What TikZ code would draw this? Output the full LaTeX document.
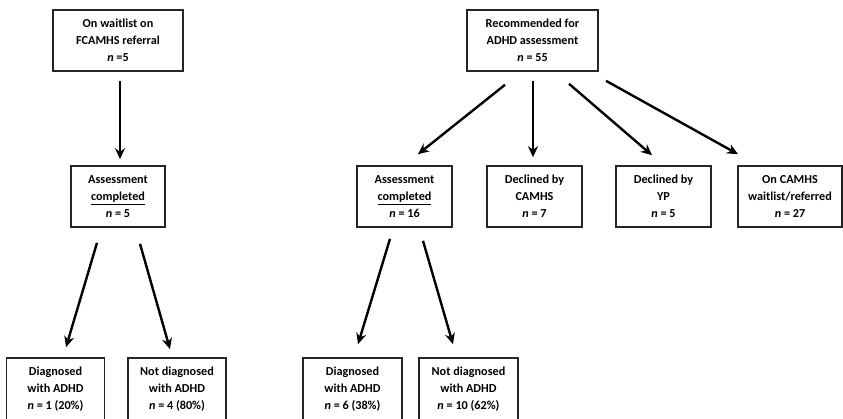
\documentclass[tikz,border=0pt]{standalone}
\usepackage{fontspec}
\setmainfont{Carlito}
\usetikzlibrary{arrows.meta}
\begin{document}
\begin{tikzpicture}[x=1pt,y=-1pt,
  box/.style={draw=black!85,line width=1.6pt,align=center,font=\bfseries\fontsize{12.2}{16.8}\selectfont,minimum height=61pt,inner sep=0pt},
  arr/.style={line width=2.4pt,-{Stealth[length=11pt,width=10pt]}}]
\useasboundingbox (0,0) rectangle (843,418);
\node[box,minimum width=130pt] (A) at (118,40.5) {On waitlist on\\FCAMHS referral\\\textit{n} =5};
\node[box,minimum width=94pt] (B) at (118,196.5) {Assessment\\\underline{completed}\\\textit{n} = 5};
\node[box,minimum width=98pt,minimum height=62pt] (C) at (55.5,389) {Diagnosed\\with ADHD\\\textit{n} = 1 (20\%)};
\node[box,minimum width=98pt,minimum height=62pt] (D) at (177,389) {Not diagnosed\\with ADHD\\\textit{n} = 4 (80\%)};
\node[box,minimum width=131pt] (E) at (532.5,40.5) {Recommended for\\ADHD assessment\\\textit{n} = 55};
\node[box,minimum width=95pt] (F) at (404.5,196.5) {Assessment\\\underline{completed}\\\textit{n} = 16};
\node[box,minimum width=95pt] (G) at (534.5,196.5) {Declined by\\CAMHS\\\textit{n} = 7};
\node[box,minimum width=95pt] (H) at (663.5,196.5) {Declined by\\YP\\\textit{n} = 5};
\node[box,minimum width=104pt] (I) at (790,196.5) {On CAMHS\\waitlist/referred\\\textit{n} = 27};
\node[box,minimum width=99pt,minimum height=62pt] (J) at (352.5,389) {Diagnosed\\with ADHD\\\textit{n} = 6 (38\%)};
\node[box,minimum width=99pt,minimum height=62pt] (K) at (468.5,389) {Not diagnosed\\with ADHD\\\textit{n} = 10 (62\%)};
\draw[arr] ([xshift=2pt,yshift=-9pt]A.south) -- ([xshift=2pt,yshift=6pt]B.north);
\draw[arr] ([xshift=-21pt,yshift=-15pt]B.south) -- ([xshift=10.5pt,yshift=10pt]C.north);
\draw[arr] ([xshift=22pt,yshift=-16pt]B.south) -- ([xshift=-7pt,yshift=8pt]D.north);
\draw[arr] ([xshift=-27.5pt,yshift=-13pt]E.south) -- ([xshift=13.5pt,yshift=11pt]F.north);
\draw[arr] ([xshift=0.5pt,yshift=-9pt]E.south) -- ([xshift=-1.5pt,yshift=8pt]G.north);
\draw[arr] ([xshift=36.5pt,yshift=-12pt]E.south) -- ([xshift=-11.5pt,yshift=10pt]H.north);
\draw[arr] ([xshift=73.5pt,yshift=-9pt]E.south) -- ([xshift=-52pt,yshift=11pt]I.north);
\draw[arr] ([xshift=-14.5pt,yshift=-11pt]F.south) -- ([xshift=5.5pt,yshift=13pt]J.north);
\draw[arr] ([xshift=18.5pt,yshift=-13pt]F.south) -- ([xshift=-15.5pt,yshift=13pt]K.north);
\end{tikzpicture}
\end{document}
